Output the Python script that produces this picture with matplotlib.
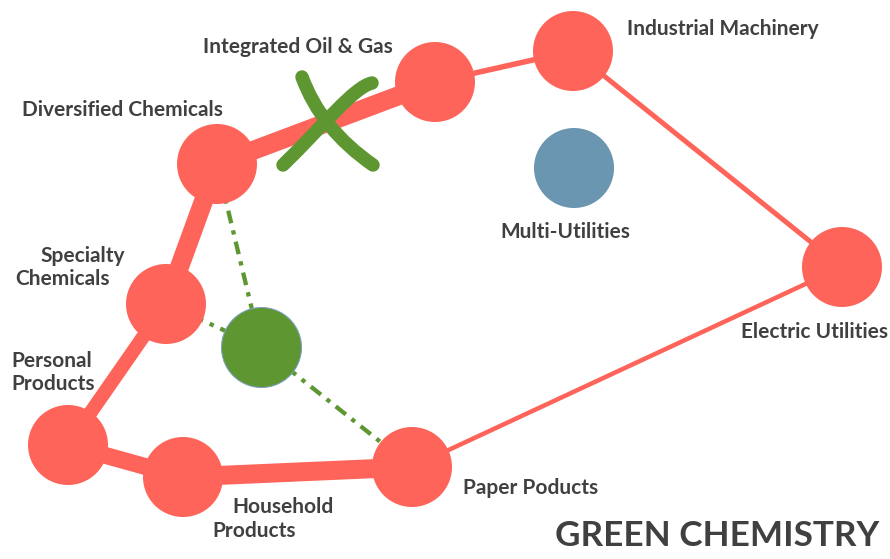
import matplotlib
matplotlib.use("Agg")
import matplotlib.pyplot as plt
from matplotlib.path import Path
from matplotlib.patches import PathPatch

# ---- data: node layout (pixel space of the original diagram) ----
node_names = ["Industrial Machinery", "Integrated Oil & Gas", "Diversified Chemicals",
              "Specialty Chemicals", "Personal Products", "Household Products",
              "Paper Poducts", "Electric Utilities", "Multi-Utilities", "Green"]
node_x = [573, 435, 217, 166, 68, 183, 412, 842, 574, 261]
node_y = [51, 82, 164, 304, 445, 477, 467, 267, 168, 347]
node_color = ["red", "red", "red", "red", "red", "red", "red", "red", "blue", "green"]

# red path edges (source, target, weight in px)
edge_src = [1, 0, 7, 6, 5, 4, 3, 2]
edge_dst = [0, 7, 6, 5, 4, 3, 2, 1]
edge_w = [5.5, 5, 4.5, 19, 17, 14, 19, 19]

# green dash-dot links
link_src = [9, 9, 9]
link_dst = [2, 3, 6]

# labels: (text line, left x, baseline y)
label_lines = ["Industrial Machinery", "Integrated Oil & Gas", "Diversified Chemicals",
               "Specialty", "Chemicals", "Personal", "Products", "Household", "Products",
               "Paper Poducts", "Electric Utilities", "Multi-Utilities"]
label_x = [627, 203, 22, 40, 15, 11, 11, 232, 212, 463, 741, 500]
label_y = [35, 53, 116, 262, 285, 367, 390, 513, 537, 494, 338, 238]

title = "GREEN CHEMISTRY"

RED = "#fe6459"
GREEN = "#5e9732"
BLUE = "#6b96b1"
TEXT = "#404040"
colors = {"red": RED, "green": GREEN, "blue": BLUE}

W, H, DPI = 890, 559, 100
PT = 72.0 / DPI  # points per pixel

fig = plt.figure(figsize=(W / DPI, H / DPI), dpi=DPI)
ax = fig.add_axes([0, 0, 1, 1])
ax.set_xlim(0, W)
ax.set_ylim(H, 0)
ax.axis("off")

# red edges
for s, d, w in zip(edge_src, edge_dst, edge_w):
    ax.plot([node_x[s], node_x[d]], [node_y[s], node_y[d]], color=RED,
            lw=w * PT, solid_capstyle="butt", zorder=1)

# green links
for s, d in zip(link_src, link_dst):
    ax.plot([node_x[s], node_x[d]], [node_y[s], node_y[d]], color=GREEN,
            lw=4.3 * PT, ls=(0, (3, 1.7, 1, 1.7)), dash_capstyle="butt", zorder=1)

# nodes
r = 40
size = (2 * r * PT) ** 2
for i in range(len(node_names)):
    ec = "#7f9fc4" if node_color[i] == "green" else "none"
    ax.scatter([node_x[i]], [node_y[i]], s=size, color=colors[node_color[i]],
               edgecolors=ec, linewidths=1 * PT, zorder=3)

# hand-drawn X over the Integrated Oil & Gas - Diversified Chemicals link
cx = (node_x[1] + node_x[2]) / 2
cy = (node_y[1] + node_y[2]) / 2
stroke1 = Path([(cx - 24, cy - 46), (cx - 5, cy + 6), (cx + 47, cy + 42)],
               [Path.MOVETO, Path.CURVE3, Path.CURVE3])
stroke2 = Path([(cx - 43, cy + 42), (cx - 2, cy + 2), (cx + 28, cy - 36), (cx + 46, cy - 40)],
               [Path.MOVETO, Path.CURVE4, Path.CURVE4, Path.CURVE4])
for p in (stroke1, stroke2):
    patch = PathPatch(p, facecolor="none", edgecolor=GREEN, lw=13.5 * PT,
                      capstyle="round", joinstyle="round", zorder=2)
    ax.add_patch(patch)

# labels
for t, x, y in zip(label_lines, label_x, label_y):
    ax.text(x, y, t, ha="left", va="baseline", fontsize=15.0, fontweight="bold",
            family="Lato", color=TEXT, zorder=4)

ax.text(555, 546, title, ha="left", va="baseline", fontsize=25.3, fontweight="bold",
        family="Lato", color=TEXT, zorder=4)

fig.savefig("out.png", dpi=DPI)
